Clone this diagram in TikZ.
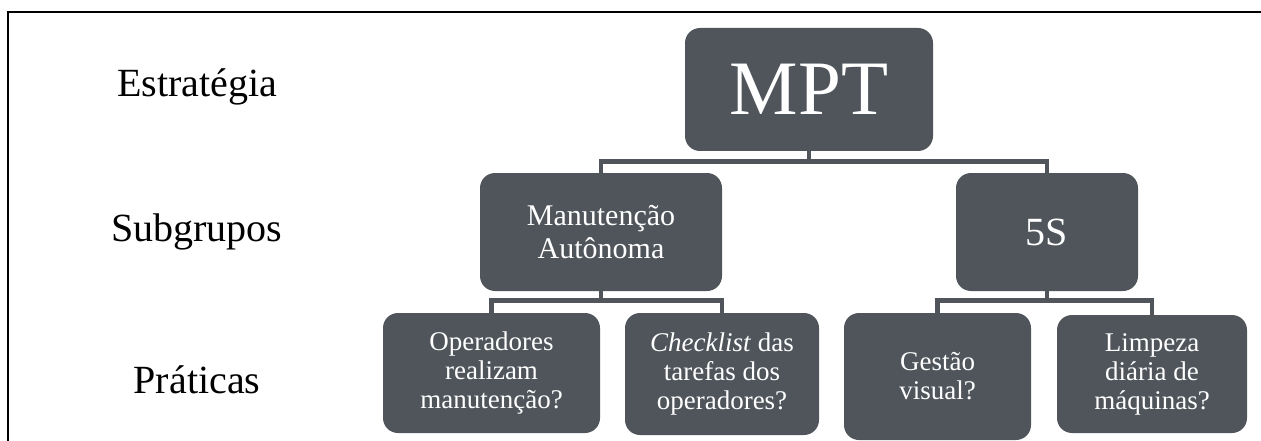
\documentclass[tikz,border=0pt]{standalone}
\usepackage{fontspec}
\setmainfont{Liberation Serif}
\definecolor{boxgray}{HTML}{4F555B}
\begin{document}
\begin{tikzpicture}[x=1pt,y=-1pt,
  box/.style={draw=none,fill=boxgray,rounded corners=15pt,text=white,align=center,inner sep=2pt},
  conn/.style={draw=boxgray,line width=4.5pt},
  lvl/.style={font=\fontsize{40}{46}\selectfont,anchor=center},
  frame/.style={draw=black,line width=2pt}]
\useasboundingbox (0,0) rectangle (1261,441);
% frame
\coordinate (ftr) at (1261,12.5);
\coordinate (ftl) at (7.5,12.5);
\coordinate (fbl) at (7.5,441);
\draw[frame] (ftr) -- (ftl) -- (fbl);
% level labels
\node[lvl] (estr) at (197,87) {Estratégia};
\node[lvl] (subg) at (197,232) {Subgrupos};
\node[lvl] (prat) at (197,380) {Práticas};
% boxes
\node[box,minimum width=248pt,minimum height=123pt,font=\fontsize{77}{80}\selectfont] (mpt) at (809,89.5) {MPT};
\node[box,minimum width=242pt,minimum height=118pt,font=\fontsize{30}{33}\selectfont] (ma) at (601,232) {Manutenção\\Autônoma};
\node[box,minimum width=182pt,minimum height=118pt,font=\fontsize{40}{44}\selectfont] (cs) at (1047,232) {5S};
\node[box,minimum width=217pt,minimum height=120pt,font=\fontsize{27}{29}\selectfont] (op) at (491.5,373) {Operadores\\realizam\\manutenção?};
\node[box,minimum width=194pt,minimum height=122pt,font=\fontsize{27}{29}\selectfont] (ck) at (722,374) {\textit{Checklist} das\\tarefas dos\\operadores?};
\node[box,minimum width=187pt,minimum height=127pt,font=\fontsize{27}{29}\selectfont] (ge) at (937.5,376.5) {Gestão\\visual?};
\node[box,minimum width=190pt,minimum height=118pt,font=\fontsize{27}{29}\selectfont] (li) at (1152,374) {Limpeza\\diária de\\máquinas?};
% connectors
\draw[conn] (mpt.south) -- ++(0,10.5) -| (ma.north);
\draw[conn] (mpt.south) -- ++(0,10.5) -| (cs.north);
\draw[conn] (ma.south) -- ++(0,9.5) -| (op.north);
\draw[conn] (ma.south) -- ++(0,9.5) -| (ck.north);
\draw[conn] (cs.south) -- ++(0,9.5) -| (ge.north);
\draw[conn] (cs.south) -- ++(0,9.5) -| (li.north);
\end{tikzpicture}
\end{document}
